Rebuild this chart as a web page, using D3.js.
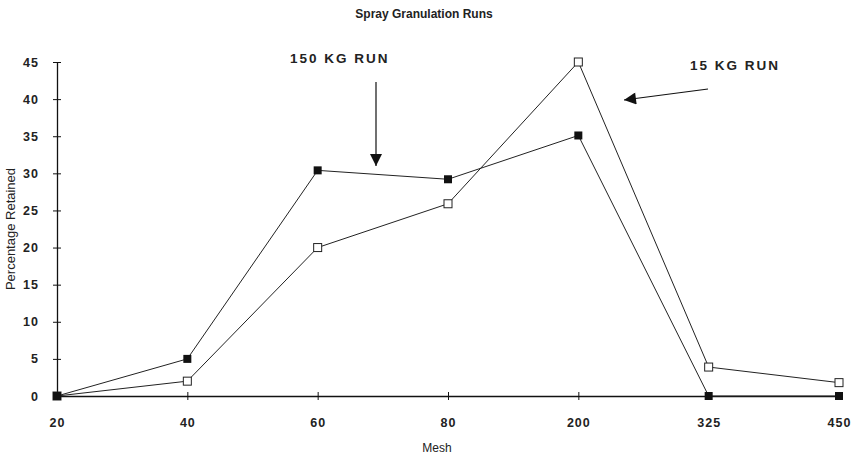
<!DOCTYPE html>
<html><head><meta charset="utf-8">
<script src="https://cdn.jsdelivr.net/npm/d3@7"></script>
<style>body{margin:0;background:#fff}svg{display:block}</style>
</head><body><svg id="c" width="856" height="456"></svg>
<script>
const categories = ["20","40","60","80","200","325","450"];
const run150 = [0, 5, 30.4, 29.2, 35.1, 0, 0];
const run15 = [0, 2, 20, 25.9, 45, 3.9, 1.8];
const yTicks = [0,5,10,15,20,25,30,35,40,45];

const svg = d3.select("#c");
const font = "Arial, 'Liberation Sans', sans-serif";
const x = d3.scalePoint().domain(categories).range([57, 839]).padding(0);
const y = d3.scaleLinear().domain([0,45]).range([396, 62]);

svg.append("text").attr("x",424).attr("y",18).attr("text-anchor","middle")
  .attr("font-family",font).attr("font-size",12).attr("font-weight","bold").attr("fill","#222")
  .text("Spray Granulation Runs");

// y axis
const ya = svg.append("g").attr("transform","translate(57,0)")
  .call(d3.axisLeft(y).tickValues(yTicks).tickSizeInner(4).tickSizeOuter(0).tickPadding(14));
ya.selectAll(".tick line").attr("x2",4).attr("x1",-4).attr("stroke","#111");
ya.select(".domain").attr("stroke","#111").attr("stroke-width",1.3);
ya.selectAll(".tick text").attr("font-family",font).attr("font-size",12.5).attr("font-weight","bold").attr("fill","#222").attr("letter-spacing","1px");

// x axis
const xa = svg.append("g").attr("transform","translate(0,396)")
  .call(d3.axisBottom(x).tickSizeInner(4).tickSizeOuter(0).tickPadding(18));
xa.selectAll(".tick line").attr("y1",-4).attr("y2",4).attr("stroke","#111");
xa.select(".domain").attr("stroke","#111").attr("stroke-width",1.3);
xa.selectAll(".tick text").attr("font-family",font).attr("font-size",12.5).attr("font-weight","bold").attr("fill","#222").attr("letter-spacing","1px");

svg.append("text").attr("transform","translate(15,229) rotate(-90)").attr("text-anchor","middle")
  .attr("font-family",font).attr("font-size",13).attr("fill","#222").text("Percentage Retained");
svg.append("text").attr("x",437).attr("y",452).attr("text-anchor","middle")
  .attr("font-family",font).attr("font-size",12).attr("fill","#222").text("Mesh");

const line = d3.line().x((d,i)=>x(categories[i])).y(d=>y(d));
svg.append("path").datum(run15).attr("d",line).attr("fill","none").attr("stroke","#222").attr("stroke-width",1);
svg.append("path").datum(run150).attr("d",line).attr("fill","none").attr("stroke","#222").attr("stroke-width",1);

const s = 8;
svg.selectAll(".o").data(run15).enter().append("rect")
  .attr("x",(d,i)=>x(categories[i])-s/2).attr("y",d=>y(d)-s/2).attr("width",s).attr("height",s)
  .attr("fill","#fff").attr("stroke","#222").attr("stroke-width",1);
svg.selectAll(".f").data(run150).enter().append("rect")
  .attr("x",(d,i)=>x(categories[i])-s/2).attr("y",d=>y(d)-s/2).attr("width",s).attr("height",s)
  .attr("fill","#111");

// annotations
const defs = svg.append("defs");
defs.append("marker").attr("id","ah2").attr("viewBox","0 0 10 10").attr("refX",10).attr("refY",5)
  .attr("markerWidth",14).attr("markerHeight",12).attr("markerUnits","userSpaceOnUse").attr("orient","auto")
  .append("path").attr("d","M0,0 L10,5 L0,10 Z").attr("fill","#111");

svg.append("text").attr("x",290).attr("y",63).attr("font-family",font).attr("font-size",13.5)
  .attr("font-weight","bold").attr("fill","#222").attr("letter-spacing","2px").text("150 KG RUN");
svg.append("line").attr("x1",376).attr("y1",82).attr("x2",376).attr("y2",166)
  .attr("stroke","#111").attr("stroke-width",1.2).attr("marker-end","url(#ah2)");

svg.append("text").attr("x",690).attr("y",70).attr("font-family",font).attr("font-size",13.5)
  .attr("font-weight","bold").attr("fill","#222").attr("letter-spacing","2px").text("15 KG RUN");
svg.append("line").attr("x1",708).attr("y1",89).attr("x2",624).attr("y2",100)
  .attr("stroke","#111").attr("stroke-width",1.2).attr("marker-end","url(#ah2)");
</script></body></html>
